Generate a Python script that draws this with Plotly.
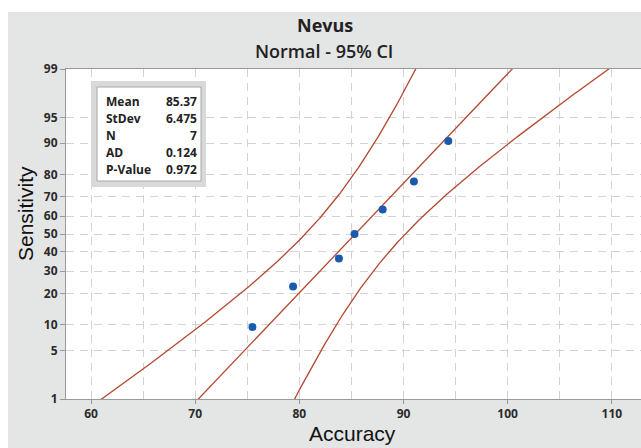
import plotly.graph_objects as go
from statistics import NormalDist
import math

# ---- data ----
accuracy = [75.5, 79.4, 83.8, 85.3, 88.0, 91.0, 94.3]
sensitivity_pct = [9.5, 23.0, 36.5, 50.0, 63.5, 77.0, 90.5]
stat_labels = ["Mean", "StDev", "N", "AD", "P-Value"]
stat_values = ["85.37", "6.475", "7", "0.124", "0.972"]
MEAN = 85.37
STDEV = 6.475
N = 7
prob_ticks = [1, 5, 10, 20, 30, 40, 50, 60, 70, 80, 90, 95, 99]
x_ticks = [60, 70, 80, 90, 100, 110]

nd = NormalDist()
def ppf(p):
    return nd.inv_cdf(p / 100.0)

# fitted line and 95% CI on percentiles
zs = [-3.0 + i * 0.02 for i in range(301)]
fit_x = [MEAN + z * STDEV for z in zs]
se = [STDEV * math.sqrt(1.0 / N + z * z / (2.0 * N)) for z in zs]
lo_x = [f - 1.96 * s for f, s in zip(fit_x, se)]
hi_x = [f + 1.96 * s for f, s in zip(fit_x, se)]

W, H = 641, 448
L, R, T, B = 66, 0, 69, 49
pw, ph = W - L - R, H - T - B
def px(xp):
    return (xp - L) / pw
def py(yp):
    return (H - B - yp) / ph

line_col = "#b4472f"
fig = go.Figure()
for xs in (lo_x, fit_x, hi_x):
    fig.add_trace(go.Scatter(x=xs, y=zs, mode="lines",
                             line=dict(color=line_col, width=1.3),
                             hoverinfo="skip", showlegend=False))
fig.add_trace(go.Scatter(x=accuracy, y=[ppf(p) for p in sensitivity_pct],
                         mode="markers",
                         marker=dict(color="#1a5bb0", size=8),
                         showlegend=False))

tick_font = dict(family="Open Sans", size=12, color="#2b2b2b", weight=700)
grid_col = "#d2d2d2"
fig.update_xaxes(range=[57.6, 112.8], tickvals=x_ticks, ticktext=[str(v) for v in x_ticks],
                 showgrid=True, gridcolor=grid_col, griddash="8px,6px", gridwidth=1,
                 minor=dict(tickvals=[65, 75, 85, 95, 105], showgrid=True,
                            gridcolor=grid_col, griddash="8px,6px", gridwidth=1),
                 ticks="outside", ticklen=4, tickcolor="#999",
                 showline=True, linecolor="#9a9a9a", linewidth=1, mirror=True,
                 zeroline=False, tickfont=tick_font)
fig.update_yaxes(range=[ppf(1), ppf(99)], tickvals=[ppf(p) for p in prob_ticks],
                 ticktext=[str(p) for p in prob_ticks],
                 showgrid=True, gridcolor=grid_col, griddash="8px,6px", gridwidth=1,
                 ticks="outside", ticklen=5, tickcolor="#999",
                 showline=True, linecolor="#9a9a9a", linewidth=1, mirror=True,
                 zeroline=False, tickfont=tick_font)

shapes = [
    # white strips outside grey frame
    dict(type="rect", xref="paper", yref="paper", x0=px(0), x1=px(W), y0=py(12), y1=py(0),
         fillcolor="white", line=dict(width=0), layer="below"),
    dict(type="rect", xref="paper", yref="paper", x0=px(0), x1=px(8), y0=py(H), y1=py(0),
         fillcolor="white", line=dict(width=0), layer="below"),
    # stats box
    dict(type="rect", xref="paper", yref="paper", x0=px(91), x1=px(206), y0=py(187), y1=py(81),
         fillcolor="#d9d9d9", line=dict(width=0)),
    dict(type="rect", xref="paper", yref="paper", x0=px(97), x1=px(201), y0=py(181), y1=py(87),
         fillcolor="white", line=dict(color="#a8a8a8", width=1)),
]

annotations = [
    dict(text="Nevus", xref="paper", yref="paper", x=px(325), y=py(25), showarrow=False,
         xanchor="center", yanchor="middle",
         font=dict(family="Open Sans", size=18, color="#222", weight=700)),
    dict(text="Normal - 95% CI", xref="paper", yref="paper", x=px(324), y=py(51), showarrow=False,
         xanchor="center", yanchor="middle",
         font=dict(family="Open Sans", size=18, color="#222", weight=600)),
    dict(text="Accuracy", xref="paper", yref="paper", x=px(352), y=py(434), showarrow=False,
         xanchor="center", yanchor="middle",
         font=dict(family="Liberation Sans", size=21, color="#111")),
    dict(text="Sensitivity", xref="paper", yref="paper", x=px(25), y=py(214), showarrow=False,
         xanchor="center", yanchor="middle", textangle=-90,
         font=dict(family="Liberation Sans", size=21, color="#111")),
]
row_y = [101.5, 118.5, 135, 152, 169]
box_font = dict(family="Open Sans", size=12, color="#222", weight=700)
for lab, val, yy in zip(stat_labels, stat_values, row_y):
    annotations.append(dict(text=lab, xref="paper", yref="paper", x=px(104), y=py(yy),
                            showarrow=False, xanchor="left", yanchor="middle", font=box_font))
    annotations.append(dict(text=val, xref="paper", yref="paper", x=px(199), y=py(yy),
                            showarrow=False, xanchor="right", yanchor="middle", font=box_font))

fig.update_layout(width=W, height=H, margin=dict(l=L, r=R, t=T, b=B, pad=0),
                  paper_bgcolor="#e4e5e5", plot_bgcolor="white",
                  shapes=shapes, annotations=annotations, showlegend=False)

fig.write_html("out.html")
